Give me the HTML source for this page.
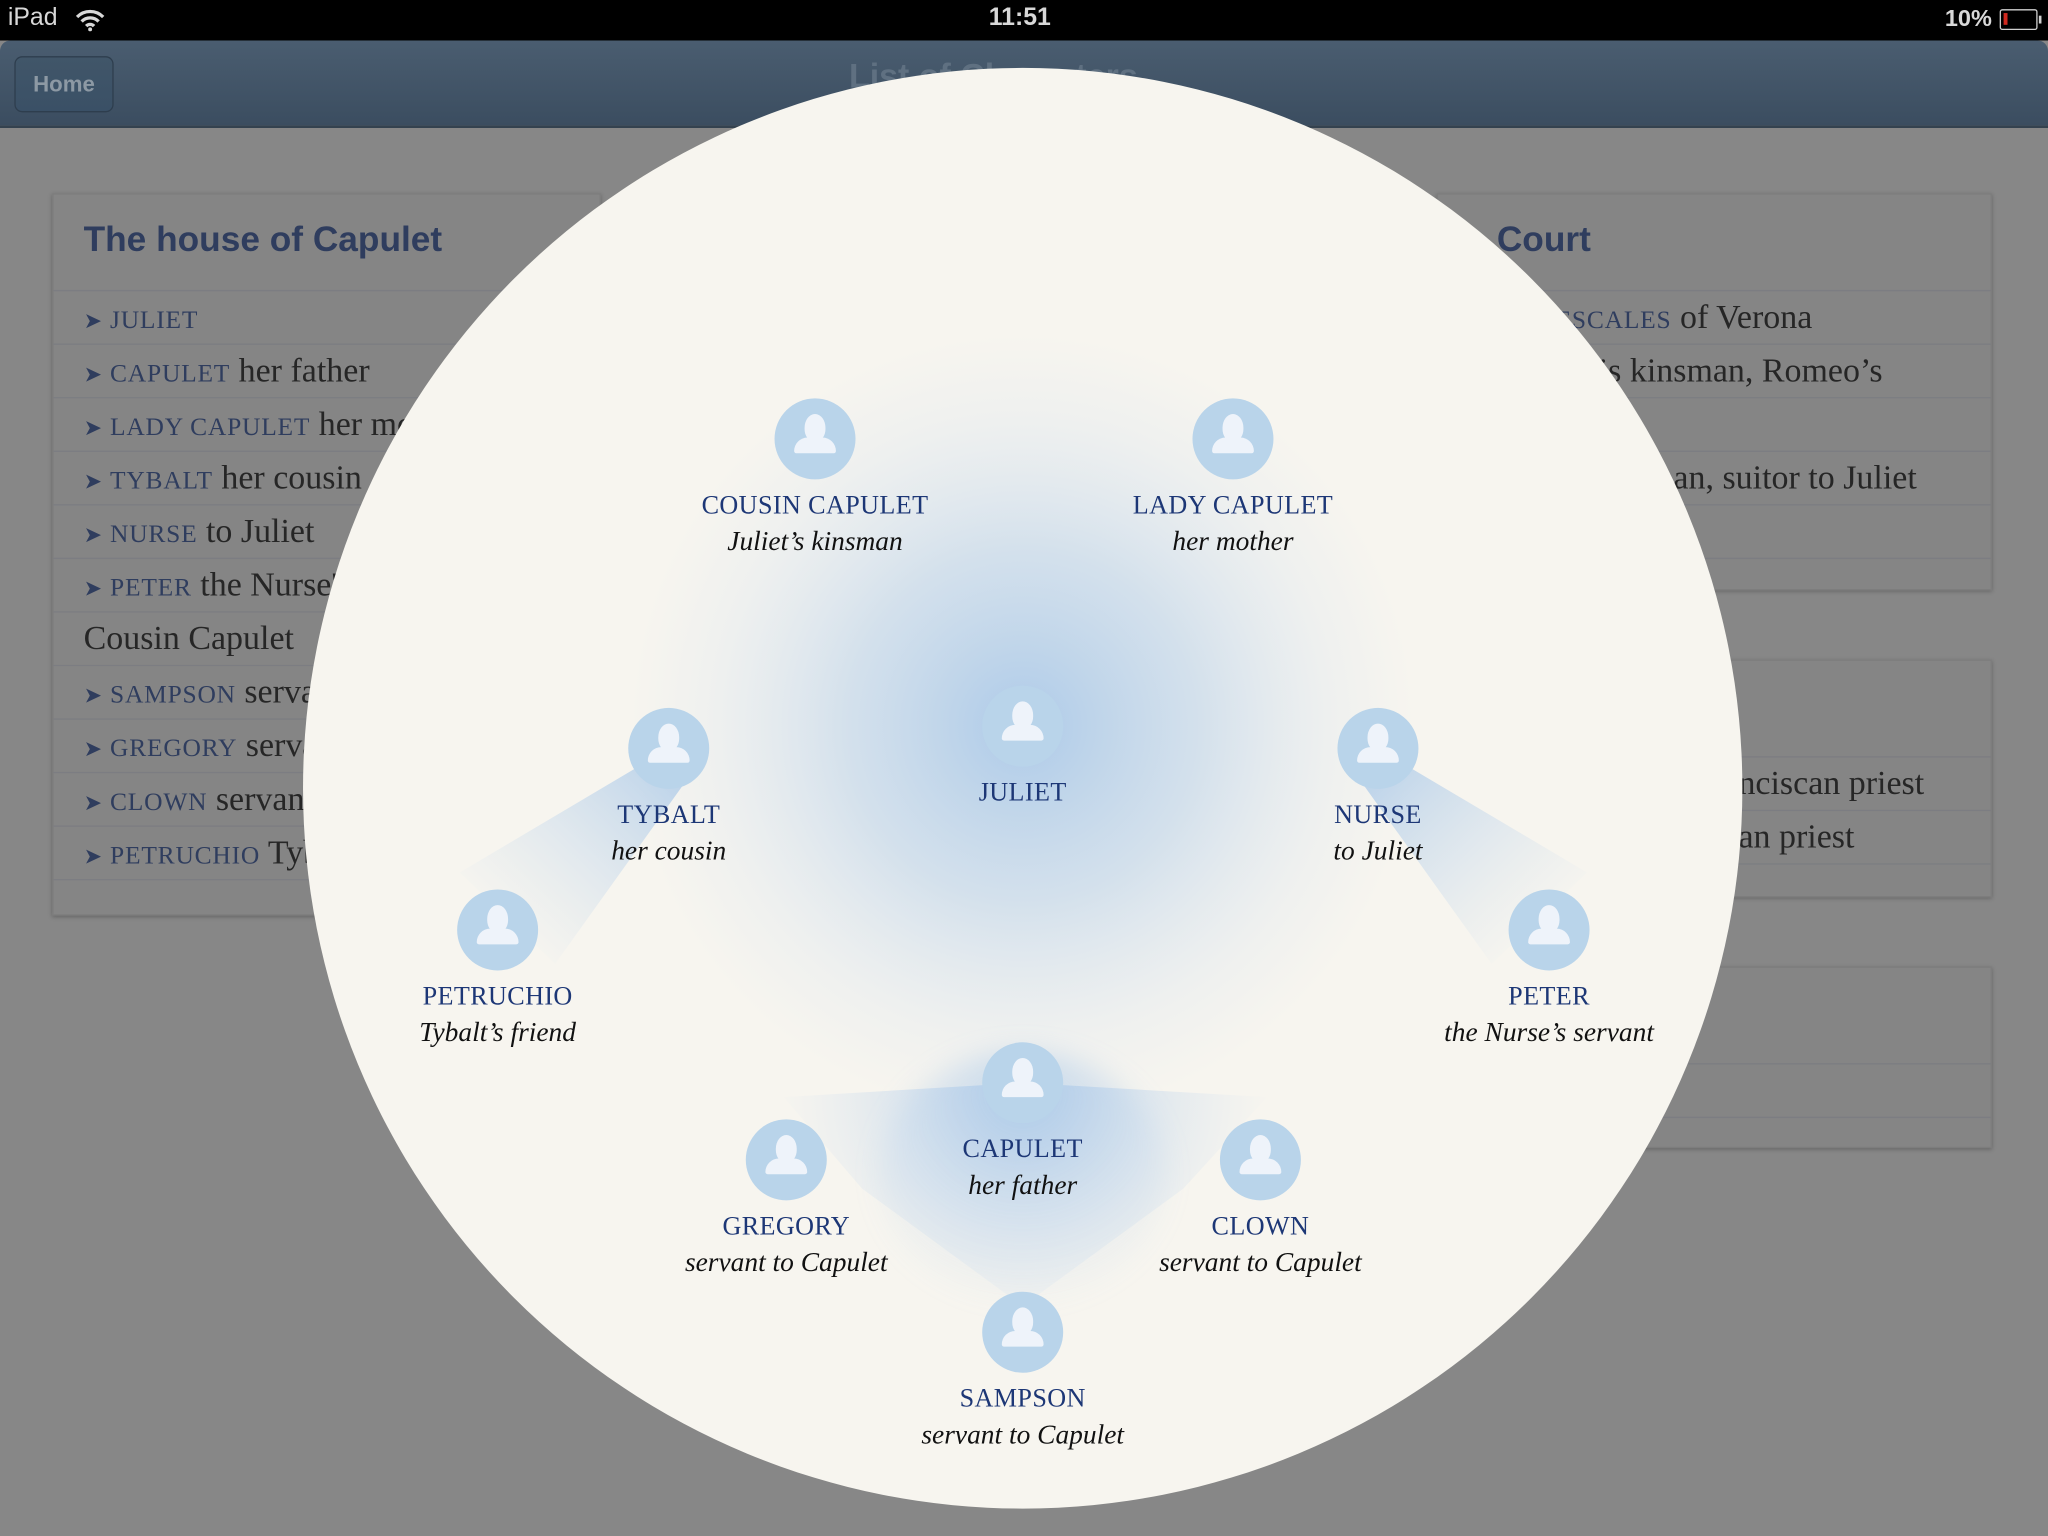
<!DOCTYPE html>
<html><head><meta charset="utf-8">
<style>
*{margin:0;padding:0;box-sizing:border-box}
html,body{width:2048px;height:1536px;overflow:hidden;background:#878787}
#w{position:absolute;left:0;top:0;width:1568px;height:1176px;transform:scale(1.306122);transform-origin:0 0;background:#878787;font-family:"Liberation Serif",serif}
.sb{position:absolute;left:0;top:0;width:1568px;height:31px;background:#000;color:#d8d8d8;font-family:"Liberation Sans",sans-serif;font-size:19px}
.nav{position:absolute;left:0;top:31px;width:1568px;height:67px;background:linear-gradient(#4a5d70,#3b4d60);border-radius:8px 8px 0 0;border-bottom:2px solid #34424f}
.home{position:absolute;left:11px;top:12px;width:76px;height:43px;border:1px solid #2e3e4e;border-radius:6px;background:linear-gradient(#415669,#3a5066);color:#8d99a4;font:bold 17px "Liberation Sans",sans-serif;text-align:center;line-height:41px}
.card{position:absolute;background:#858585;box-shadow:0 1px 3px rgba(0,0,0,.25);border:1px solid #7d7d7d}
.card h2{font:bold 27px "Liberation Sans",sans-serif;color:#2f3d5e;position:absolute;left:23px;top:19px}
.row{position:absolute;left:0;right:0;height:41px;border-top:1px solid #7c7d82;font-size:26px;color:#262626;padding-left:23px;line-height:40px;white-space:nowrap}
.sc{color:#2f3d5e;font-size:19.5px;letter-spacing:.6px}
.ar{color:#2f3d5e;font-size:17px;margin-right:6px}
.circ{position:absolute;left:232px;top:52px;width:1102px;height:1103px;border-radius:50%;background:#f7f5ef;overflow:hidden}
.node{position:absolute;width:300px;margin-left:-150px;text-align:center}
.av{position:relative;width:62px;height:62px;border-radius:50%;background:#b9d4ea;margin:0 auto}
.av:before{content:"";position:absolute;left:23px;top:12px;width:16px;height:21px;border-radius:50% 50% 45% 45%;background:#eef3fa}
.av:after{content:"";position:absolute;left:15px;top:30px;width:32px;height:12px;border-radius:12px 12px 2px 2px;background:#eef3fa}
.nm{color:#1d3776;font-size:20px;letter-spacing:.3px;margin-top:8px;line-height:24px}
.ds{font-style:italic;font-size:21px;color:#111;line-height:30px}
</style></head><body><div id="w">
<div class="sb"><span style="position:absolute;left:6px;top:3px">iPad</span>
<svg style="position:absolute;left:58px;top:6px" width="22" height="18" viewBox="0 0 22 18"><path d="M1 7a14 14 0 0 1 20 0M4.5 10.5a9 9 0 0 1 13 0M8 14a4 4 0 0 1 6 0" stroke="#d8d8d8" stroke-width="2.5" fill="none"/><circle cx="11" cy="16.5" r="1.5" fill="#d8d8d8"/></svg>
<span style="position:absolute;left:757px;top:3px;font-weight:bold">11:51</span>
<span style="position:absolute;left:1489px;top:4px;font-weight:bold;font-size:18px">10%</span>
<div style="position:absolute;left:1531px;top:7px;width:29px;height:16px;border:1.5px solid #cfcfcf;border-radius:2px"><div style="position:absolute;left:2px;top:2px;width:3px;height:9px;background:#d0281e"></div></div>
<div style="position:absolute;left:1561px;top:12px;width:2px;height:6px;background:#cfcfcf"></div></div>
<div class="nav"><div class="home">Home</div>
<div style="position:absolute;left:650px;top:12px;font:bold 26px 'Liberation Sans',sans-serif;color:#5f7081">List of Characters</div></div>

<div class="card" style="left:40px;top:148px;width:420px;height:553px">
<h2>The house of Capulet</h2>
<div class="row" style="top:73px"><span class="ar">➤</span><span class="sc">JULIET</span></div>
<div class="row" style="top:114px"><span class="ar">➤</span><span class="sc">CAPULET</span> her father</div>
<div class="row" style="top:155px"><span class="ar">➤</span><span class="sc">LADY CAPULET</span> her mother</div>
<div class="row" style="top:196px"><span class="ar">➤</span><span class="sc">TYBALT</span> her cousin</div>
<div class="row" style="top:237px"><span class="ar">➤</span><span class="sc">NURSE</span> to Juliet</div>
<div class="row" style="top:278px"><span class="ar">➤</span><span class="sc">PETER</span> the Nurse's servant</div>
<div class="row" style="top:319px">Cousin Capulet</div>
<div class="row" style="top:360px"><span class="ar">➤</span><span class="sc">SAMPSON</span> servant</div>
<div class="row" style="top:401px"><span class="ar">➤</span><span class="sc">GREGORY</span> servant</div>
<div class="row" style="top:442px"><span class="ar">➤</span><span class="sc">CLOWN</span> servant</div>
<div class="row" style="top:483px"><span class="ar">➤</span><span class="sc">PETRUCHIO</span> Tybalt's friend</div>
<div class="row" style="top:524px;height:28px"></div>
</div>
<div class="card" style="left:1100px;top:148px;width:425px;height:304px">
<h2 style="left:45px">Court</h2>
<div class="row" style="top:73px;padding-left:90px"><span class="sc">ESCALES</span> of Verona</div>
<div class="row" style="top:114px;padding-left:110px">his kinsman, Romeo’s</div>
<div class="row" style="top:155px"></div>
<div class="row" style="top:196px;padding-left:160px">man, suitor to Juliet</div>
<div class="row" style="top:237px"></div>
<div class="row" style="top:278px;height:25px"></div>
</div>
<div class="card" style="left:1100px;top:505px;width:425px;height:182px">
<div class="row" style="top:73px;padding-left:230px">nciscan priest</div>
<div class="row" style="top:114px;padding-left:230px">an priest</div>
<div class="row" style="top:155px;height:26px"></div>
</div>
<div class="card" style="left:1100px;top:740px;width:425px;height:139px">
<div class="row" style="top:73px"></div>
<div class="row" style="top:114px;height:24px"></div>
</div>

<div class="circ"></div>
<svg style="position:absolute;left:0;top:0" width="1568" height="1176">
<defs>
<radialGradient id="g1" cx="783" cy="556" r="300" gradientUnits="userSpaceOnUse">
<stop offset="0" stop-color="#a9c8e8" stop-opacity=".95"/><stop offset=".45" stop-color="#bcd3ea" stop-opacity=".6"/><stop offset=".8" stop-color="#d0dff0" stop-opacity=".2"/><stop offset="1" stop-color="#d0dff0" stop-opacity="0"/></radialGradient>
<linearGradient id="gt" x1="512" y1="573" x2="381" y2="712" gradientUnits="userSpaceOnUse"><stop offset="0" stop-color="#a9c8e8" stop-opacity=".8"/><stop offset="1" stop-color="#c9dbee" stop-opacity="0"/></linearGradient>
<linearGradient id="gn" x1="1055" y1="573" x2="1186" y2="712" gradientUnits="userSpaceOnUse"><stop offset="0" stop-color="#a9c8e8" stop-opacity=".8"/><stop offset="1" stop-color="#c9dbee" stop-opacity="0"/></linearGradient>
<radialGradient id="gc" cx="783" cy="835" r="190" gradientUnits="userSpaceOnUse"><stop offset="0" stop-color="#a9c8e8" stop-opacity=".85"/><stop offset="1" stop-color="#cfdef0" stop-opacity="0"/></radialGradient>
<filter id="bl" x="-20%" y="-20%" width="140%" height="140%"><feGaussianBlur stdDeviation="10"/></filter>
</defs>
<circle cx="783" cy="556" r="300" fill="url(#g1)"/>
<polygon points="492,585 528,594 425,738 352,668" fill="url(#gt)"/>
<polygon points="1075,585 1039,594 1142,738 1215,668" fill="url(#gn)"/>
<polygon points="783,829 600,840 660,910 783,1000 906,910 970,840" fill="url(#gc)"/>
<ellipse cx="783" cy="900" rx="110" ry="95" fill="url(#gc)" filter="url(#bl)" opacity=".7"/>
</svg>

<div class="node" style="left:624px;top:305px"><div class="av"></div><div class="nm">COUSIN CAPULET</div><div class="ds">Juliet’s kinsman</div></div>
<div class="node" style="left:944px;top:305px"><div class="av"></div><div class="nm">LADY CAPULET</div><div class="ds">her mother</div></div>
<div class="node" style="left:783px;top:525px"><div class="av"></div><div class="nm">JULIET</div></div>
<div class="node" style="left:512px;top:542px"><div class="av"></div><div class="nm">TYBALT</div><div class="ds">her cousin</div></div>
<div class="node" style="left:1055px;top:542px"><div class="av"></div><div class="nm">NURSE</div><div class="ds">to Juliet</div></div>
<div class="node" style="left:381px;top:681px"><div class="av"></div><div class="nm">PETRUCHIO</div><div class="ds">Tybalt’s friend</div></div>
<div class="node" style="left:1186px;top:681px"><div class="av"></div><div class="nm">PETER</div><div class="ds">the Nurse’s servant</div></div>
<div class="node" style="left:783px;top:798px"><div class="av"></div><div class="nm">CAPULET</div><div class="ds">her father</div></div>
<div class="node" style="left:602px;top:857px"><div class="av"></div><div class="nm">GREGORY</div><div class="ds">servant to Capulet</div></div>
<div class="node" style="left:965px;top:857px"><div class="av"></div><div class="nm">CLOWN</div><div class="ds">servant to Capulet</div></div>
<div class="node" style="left:783px;top:989px"><div class="av"></div><div class="nm">SAMPSON</div><div class="ds">servant to Capulet</div></div>
</div></body></html>
